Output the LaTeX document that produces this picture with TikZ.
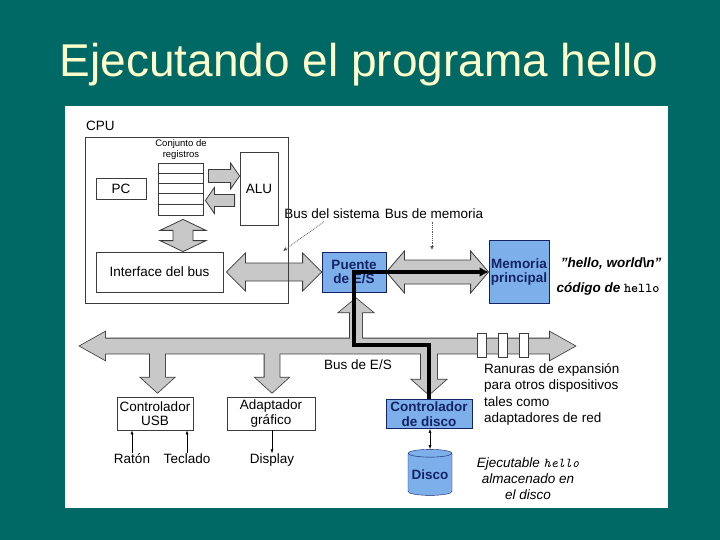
\documentclass[tikz,border=0pt]{standalone}
\usepackage{fontspec}
\setmainfont{Liberation Sans}
\usetikzlibrary{calc,arrows.meta,shapes.geometric}
\definecolor{fondo}{RGB}{0,104,101}
\definecolor{amarillo}{RGB}{255,255,204}
\definecolor{azulcaja}{RGB}{125,175,235}
\definecolor{azultexto}{RGB}{20,35,100}
\definecolor{grisflecha}{RGB}{200,200,200}
\definecolor{borde}{RGB}{60,60,60}
\begin{document}
\begin{tikzpicture}[x=1pt,y=-1pt]
	% Estilos
	\tikzstyle{caja}=[draw=borde,fill=white,line width=0.8pt,inner sep=1pt,align=center,font=\fontsize{13.5}{14.5}\selectfont]
	\tikzstyle{cajaazul}=[caja,draw=azultexto,fill=azulcaja,text=azultexto,font=\fontsize{13.5}{14.5}\selectfont\bfseries]
	\tikzstyle{cilindro}=[cylinder,shape border rotate=90,aspect=0.2,draw=azultexto,fill=azulcaja,text=azultexto,font=\fontsize{13.5}{14.5}\selectfont\bfseries,minimum width=44,minimum height=46,inner sep=1pt]
	\tikzstyle{ranura}=[draw=borde,fill=white,line width=0.8pt,minimum width=9,minimum height=24,inner sep=0pt]
	\tikzstyle{gorda}=[draw=borde,fill=grisflecha,line width=0.8pt]
	\tikzstyle{gordaborde}=[draw=borde,line width=1.6pt]
	\tikzstyle{gordarelleno}=[fill=grisflecha]
	\tikzstyle{texto}=[inner sep=0pt,font=\fontsize{13.5}{16.5}\selectfont]
	\tikzstyle{etiqueta}=[texto,text height=10pt,text depth=3pt]
	\tikzstyle{fina}=[line width=0.6pt,-{Latex[length=4pt,width=3pt]}]
	\tikzstyle{punteada}=[densely dotted,line width=0.8pt,draw=gray!70!black,-{Latex[length=4pt,width=4pt]}]
	\tikzstyle{camino}=[line width=3.5pt,black,-{Latex[length=9pt,width=10pt]}]
	% Flechas gruesas : estilo, desde, hasta, medio cuerpo, media cabeza, largo de la punta
	\def\FlechaSimple#1#2#3#4#5#6{%
		\coordinate (fb) at ($(#3)!#6!(#2)$);
		\path[#1] ($(#2)!#4!90:(#3)$) -- ($(fb)!#4!90:(#3)$) -- ($(fb)!#5!90:(#3)$) -- (#3)
			-- ($(fb)!#5!-90:(#3)$) -- ($(fb)!#4!-90:(#3)$) -- ($(#2)!#4!-90:(#3)$) -- cycle;}
	\def\FlechaDoble#1#2#3#4#5#6{%
		\coordinate (fa) at ($(#2)!#6!(#3)$);
		\coordinate (fb) at ($(#3)!#6!(#2)$);
		\path[#1] (#2) -- ($(fa)!#5!90:(#3)$) -- ($(fa)!#4!90:(#3)$) -- ($(fb)!#4!90:(#3)$) -- ($(fb)!#5!90:(#3)$) -- (#3)
			-- ($(fb)!#5!-90:(#3)$) -- ($(fb)!#4!-90:(#3)$) -- ($(fa)!#4!-90:(#3)$) -- ($(fa)!#5!-90:(#3)$) -- cycle;}
	% Fondo
	\useasboundingbox (0,0) rectangle (720,540);
	\fill[fondo] (0,0) rectangle (720,540);
	\fill[white] (65,106) rectangle (668,508);
	\node[font=\fontsize{46}{50}\selectfont,text=amarillo,anchor=base] (titulo) at (359,77) {Ejecutando el programa hello};
	%
	% Nodos
	\node[caja,minimum width=203,minimum height=166] (cpu) at (186.5,220) {};
	\node[etiqueta,anchor=west] (cpulbl) at (86,127) {CPU};
	\node[caja,minimum width=45,minimum height=52] (registros) at (180.5,189) {};
	\foreach \i in {1,...,4}
		\draw[borde,line width=0.8pt] ($(registros.north west)+(0,10.4*\i)$) -- ($(registros.north east)+(0,10.4*\i)$);
	\node[texto,font=\fontsize{9.5}{11}\selectfont,align=center] (conjunto) at (181,150) {Conjunto de\\registros};
	\node[caja,minimum width=50,minimum height=21] (pc) at (121,188.5) {PC};
	\node[caja,minimum width=38,minimum height=73] (alu) at (259,188.5) {ALU};
	\node[caja,minimum width=127,minimum height=40] (interfaz) at (159.5,272) {Interface del bus};
	\node[cajaazul,minimum width=64,minimum height=40] (puente) at (354,272) {Puente\\de E/S};
	\node[cajaazul,minimum width=60,minimum height=63] (memoria) at (519,272) {Memoria\\principal};
	\node[caja,minimum width=76,minimum height=33] (usb) at (155,413.5) {Controlador\\USB};
	\node[caja,minimum width=88,minimum height=33] (grafico) at (271,413.5) {Adaptador\\gráfico};
	\node[cajaazul,minimum width=86,minimum height=29] (ctldisco) at (429,414) {Controlador\\de disco};
	\node[cilindro] (disco) at (430,475) {Disco};
	%
	\node[etiqueta] (bussis) at (332,215) {Bus del sistema};
	\node[etiqueta] (busmem) at (434,215) {Bus de memoria};
	\node[etiqueta,font=\fontsize{13.5}{16.5}\selectfont\bfseries\itshape] (holamundo) at (611,264) {"hello, world\textbackslash n"};
	\node[etiqueta,font=\fontsize{13.5}{16.5}\selectfont\bfseries\itshape] (codigo) at (608,289) {código de {\upshape\ttfamily hello}};
	\node[etiqueta] (buses) at (358,366) {Bus de E/S};
	\node[texto,anchor=north west,align=left] (ranuras) at (484,363) {Ranuras de expansión\\para otros dispositivos\\tales como\\adaptadores de red};
	\node[etiqueta] (raton) at (132,460) {Ratón};
	\node[etiqueta] (teclado) at (187,460) {Teclado};
	\node[etiqueta] (display) at (272,460) {Display};
	\node[texto,align=center,font=\fontsize{13.5}{16}\selectfont\itshape] (ejecutable) at (528,479) {Ejecutable {\ttfamily hello}\\almacenado en\\el disco};
	%
	% Flechas (registros, ALU, interfaz)
	\coordinate (ra1) at ($(registros.east)+(5,-13)$);
	\coordinate (ra2) at (alu.west |- ra1);
	\FlechaSimple{gorda}{ra1}{ra2}{6.5pt}{13pt}{9pt}
	\coordinate (ar1) at ($(alu.west)+(-5,12)$);
	\coordinate (ar2) at ($(registros.east |- ar1)+(2,0)$);
	\FlechaSimple{gorda}{ar1}{ar2}{6pt}{13pt}{9pt}
	\coordinate (ri1) at ($(registros.south)+(2.5,4)$);
	\coordinate (ri2) at (interfaz.north -| ri1);
	\FlechaDoble{gorda}{ri1}{ri2}{10pt}{23pt}{11pt}
	% Flechas (buses)
	\coordinate (ip1) at ($(interfaz.east)+(3,0)$);
	\FlechaDoble{gorda}{ip1}{puente.west}{9pt}{19pt}{19pt}
	\draw[borde,line width=0.8pt] (cpu.north east) -- (cpu.south east);
	\FlechaDoble{gorda}{puente.east}{memoria.west}{12pt}{21pt}{18pt}
	\coordinate (busizq) at (80,346);
	\coordinate (busder) at (575,346);
	\coordinate (bu1) at ($(usb.north)+(2.5,-4)$);
	\coordinate (bg1) at ($(grafico.north)+(1,-4)$);
	\coordinate (bp1) at ($(puente.south)+(2,6)$);
	\coordinate (bd1) at ($(ctldisco.north)+(0,-4.5)$);
	\foreach \capa in {gordaborde,gordarelleno} {
		\FlechaSimple{\capa}{bu1 |- busizq}{bu1}{7.5pt}{16.5pt}{15pt}
		\FlechaSimple{\capa}{bg1 |- busizq}{bg1}{7.5pt}{16.5pt}{15pt}
		\FlechaSimple{\capa}{bp1 |- busizq}{bp1}{6pt}{17pt}{14pt}
		\FlechaSimple{\capa}{bd1 |- busizq}{bd1}{8pt}{17pt}{15pt}
		\FlechaDoble{\capa}{busizq}{busder}{7.5pt}{14pt}{25pt}
	}
	\foreach \x [count=\i] in {481.5,503,523.5}
		\node[ranura] (ranura\i) at (\x,345) {};
	% Camino del programa
	\coordinate (giro) at (354,345);
	\draw[camino] (ctldisco.north) |- (giro) |- (memoria.west);
	% Conexiones finas
	\draw[fina] (raton.north) -- (usb.south -| raton.north);
	\draw[fina] (teclado.north) -- (usb.south -| teclado.north);
	\draw[fina] (grafico.south -| display.north) -- (display.north);
	\draw[fina,{Latex[length=4pt,width=3pt]}-{Latex[length=4pt,width=3pt]}] (ctldisco.south -| disco.north) -- (disco.north);
	\coordinate (bsfin) at (283,251);
	\draw[punteada] ([xshift=-8pt]bussis.south) -- (bsfin);
	\coordinate (bmfin) at (432,250);
	\draw[punteada] (busmem.south -| bmfin) -- (bmfin);
\end{tikzpicture}
\end{document}
